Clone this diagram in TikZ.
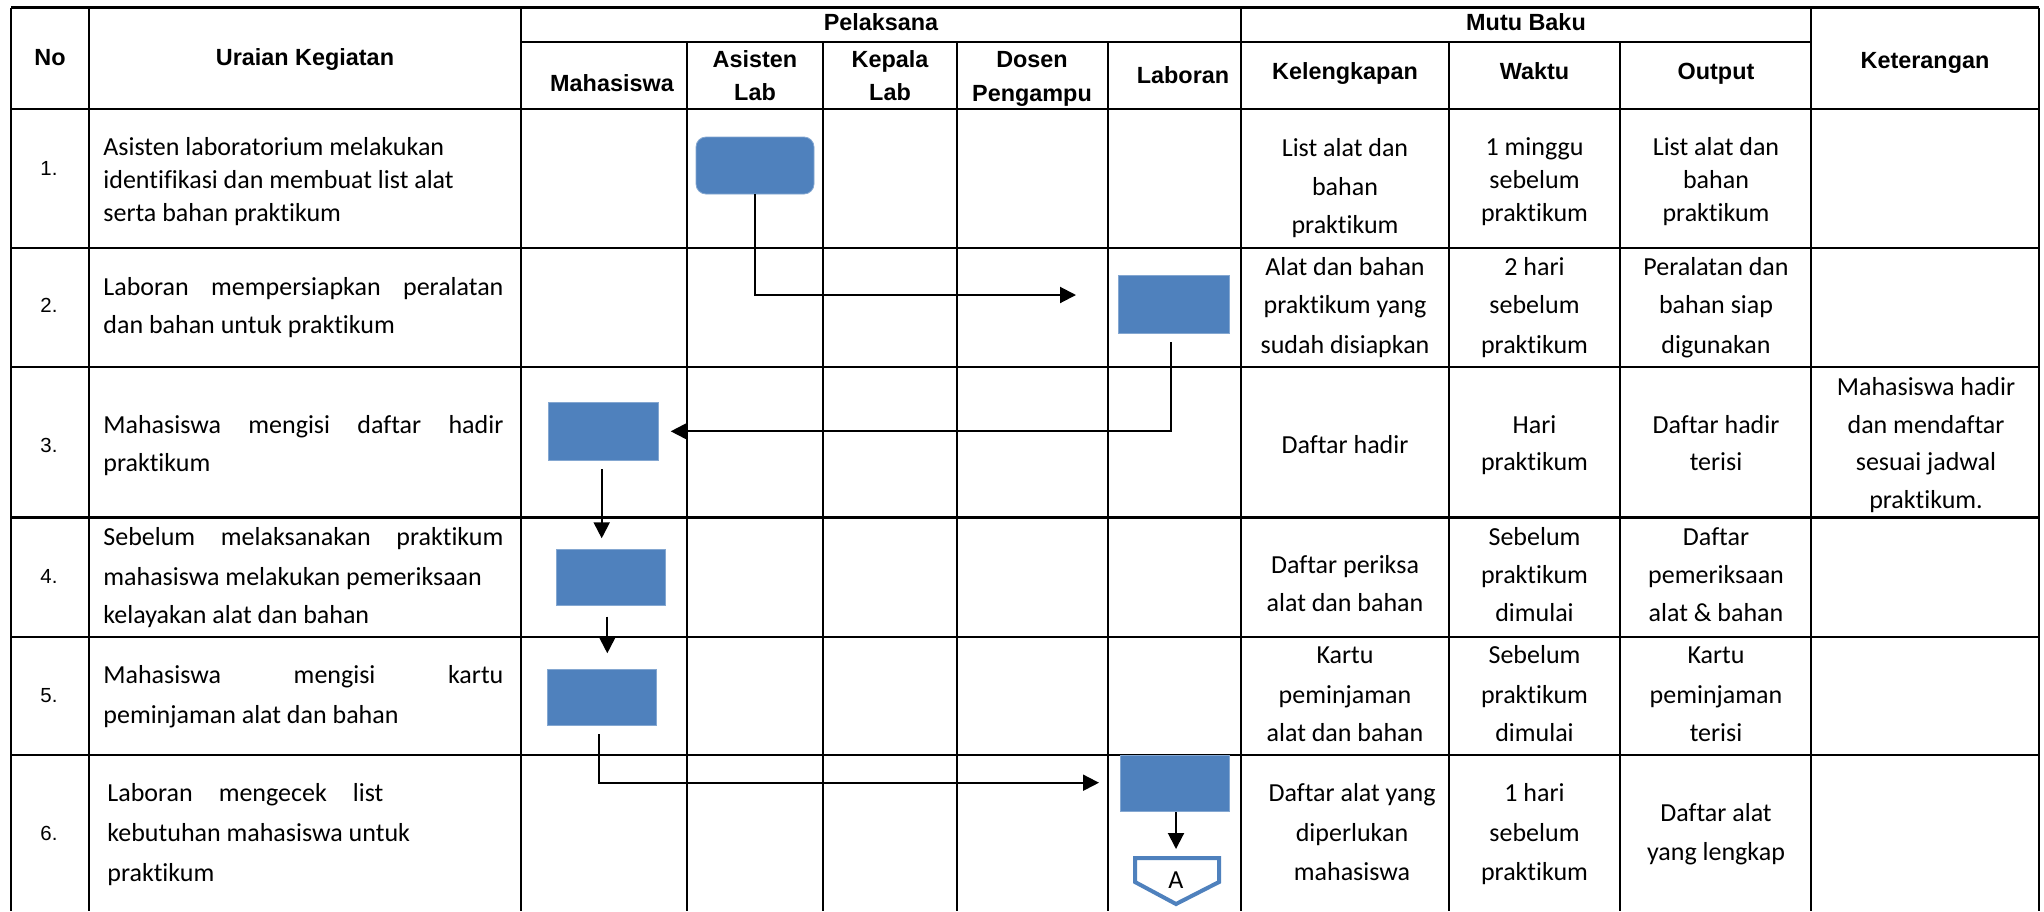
\documentclass[tikz,border=0pt]{standalone}
\usepackage{fontspec}
\usetikzlibrary{arrows.meta}
\newfontfamily\arialf{Liberation Sans}
\newfontfamily\calib{Carlito}[Ligatures=NoCommon]
\definecolor{boxblue}{HTML}{4F81BD}
\tikzset{
 hd/.style={font=\arialf\bfseries\fontsize{11.7pt}{14pt}\selectfont, anchor=base, inner sep=0pt},
 bd/.style={font=\calib\fontsize{13pt}{15pt}\selectfont, anchor=base, inner sep=0pt},
 bdl/.style={bd, anchor=base west},
 num/.style={font=\arialf\fontsize{10.2pt}{12pt}\selectfont, anchor=base, inner sep=0pt},
 hline/.style={line width=1.1pt},
 vline/.style={line width=0.7pt},
 proc/.style={fill=boxblue, draw=boxblue!70!white, line width=0.4pt, inner sep=0pt},
 arr/.style={line width=1pt, -{Triangle[length=8pt,width=8pt]}},
 offpage/.style={draw=boxblue, line width=2pt, fill=white, line join=miter},
}
\begin{document}
\begin{tikzpicture}[x=0.5pt,y=-0.5pt]
\useasboundingbox (0,0) rectangle (2044,911);
\fill[white] (0,0) rectangle (2044,911);

% table lines
\draw[hline] (11,7.5) -- (2039,7.5);
\draw[hline] (521,42) -- (1811,42);
\foreach \y in {109,248,367,517.5,637,755} \draw[hline] (11,\y) -- (2039,\y);
\foreach \x in {11,89,521,1241,1811,2039} \draw[vline] (\x,7.5) -- (\x,911);
\foreach \x in {687,823,957,1108,1449,1620} \draw[vline] (\x,42) -- (\x,911);

% header
\node[hd] (hNo) at (50,65.5) {No};
\node[hd] (hUr) at (305,65.5) {Uraian Kegiatan};
\node[hd] (hPel) at (881,30.5) {Pelaksana};
\node[hd] (hMB) at (1526,30.5) {Mutu Baku};
\node[hd] (hKet) at (1925,68.5) {Keterangan};
\node[hd] (hMhs) at (612,91.5) {Mahasiswa};
\node[hd] (hAs1) at (755,67.5) {Asisten};
\node[hd] (hAs2) at (755,100.5) {Lab};
\node[hd] (hKp1) at (890,67.5) {Kepala};
\node[hd] (hKp2) at (890,100.5) {Lab};
\node[hd] (hDs1) at (1032,67.5) {Dosen};
\node[hd] (hDs2) at (1032,101.5) {Pengampu};
\node[hd] (hLab) at (1183,83.5) {Laboran};
\node[hd] (hKel) at (1345,79.5) {Kelengkapan};
\node[hd] (hWkt) at (1534.5,79.5) {Waktu};
\node[hd] (hOut) at (1716,79.5) {Output};

% numbers
\node[num] (n1) at (49,175) {1.};
\node[num] (n2) at (49,312) {2.};
\node[num] (n3) at (49,452) {3.};
\node[num] (n4) at (49,583.5) {4.};
\node[num] (n5) at (49,702) {5.};
\node[num] (n6) at (49,840) {6.};

% uraian
\node[bdl] (u1a) at (103,155) {Asisten laboratorium melakukan};
\node[bdl] (u1b) at (103,188) {identifikasi dan membuat list alat};
\node[bdl] (u1c) at (103,221) {serta bahan praktikum};
\node[bdl] (u2a) at (103,295) {\makebox[200pt][s]{Laboran mempersiapkan peralatan}};
\node[bdl] (u2b) at (103,333) {dan bahan untuk praktikum};
\node[bdl] (u3a) at (103,433) {\makebox[200pt][s]{Mahasiswa mengisi daftar hadir}};
\node[bdl] (u3b) at (103,471) {praktikum};
\node[bdl] (u4a) at (103,545) {\makebox[200pt][s]{Sebelum melaksanakan praktikum}};
\node[bdl] (u4b) at (103,585) {mahasiswa melakukan pemeriksaan};
\node[bdl] (u4c) at (103,623) {kelayakan alat dan bahan};
\node[bdl] (u5a) at (103,683) {\makebox[200pt][s]{Mahasiswa mengisi kartu}};
\node[bdl] (u5b) at (103,723) {peminjaman alat dan bahan};
\node[bdl] (u6a) at (107,801) {\makebox[138pt][s]{Laboran mengecek list}};
\node[bdl] (u6b) at (107,841) {kebutuhan mahasiswa untuk};
\node[bdl] (u6c) at (107,881) {praktikum};

% kelengkapan
\foreach \y/\s [count=\i] in {156/List alat dan, 195/bahan, 233/praktikum,
  275/Alat dan bahan, 313/praktikum yang, 353/sudah disiapkan,
  453/Daftar hadir, 573/Daftar periksa, 611/alat dan bahan,
  663/Kartu, 703/peminjaman, 741/alat dan bahan}
  \node[bd] (k\i) at (1345,\y) {\s};
\foreach \y/\s [count=\i] in {801/Daftar alat yang, 841/diperlukan, 880/mahasiswa}
  \node[bd] (kk\i) at (1352,\y) {\s};
% waktu
\foreach \y/\s [count=\i] in {155/1 minggu, 188/sebelum, 221/praktikum,
  275/2 hari, 313/sebelum, 353/praktikum,
  433/Hari, 470/praktikum,
  545/Sebelum, 583/praktikum, 621/dimulai,
  663/Sebelum, 703/praktikum, 741/dimulai,
  801/1 hari, 841/sebelum, 880/praktikum}
  \node[bd] (w\i) at (1534.5,\y) {\s};
% output
\foreach \y/\s [count=\i] in {155/List alat dan, 188/bahan, 221/praktikum,
  275/Peralatan dan, 313/bahan siap, 353/digunakan,
  433/Daftar hadir, 470/terisi,
  545/Daftar, 583/pemeriksaan, 621/alat \& bahan,
  663/Kartu, 703/peminjaman, 741/terisi,
  821/Daftar alat, 860/yang lengkap}
  \node[bd] (o\i) at (1716,\y) {\s};
% keterangan
\foreach \y/\s [count=\i] in {395/Mahasiswa hadir, 433/dan mendaftar, 470/sesuai jadwal, 508/praktikum.}
  \node[bd] (ket\i) at (1926,\y) {\s};

% process boxes
\node[proc, rounded corners=5pt, minimum width=59pt, minimum height=28.5pt] (asis) at (755,165.5) {};
\node[proc, minimum width=55.5pt, minimum height=29pt] (lab2) at (1173.5,304) {};
\node[proc, minimum width=54.6pt, minimum height=28.6pt] (mhs3) at (603.3,431.3) {};
\node[proc, minimum width=54.5pt, minimum height=28.4pt] (mhs4) at (611.2,577.3) {};
\node[proc, minimum width=54.7pt, minimum height=28.4pt] (mhs5) at (602,697.3) {};
\node[proc, minimum width=54.5pt, minimum height=28.4pt] (lab6) at (1174.5,783.3) {};

% off-page connector
\draw[offpage] (1135,858) -- (1219,858) -- (1219,882) -- (1176,904) -- (1135,882) -- cycle;
\node[bd] (conA) at (1176,888.5) {A};

% connectors
\coordinate (t1) at (1076,295);
\draw[arr] (asis.south) |- (t1);
\coordinate (s2) at (1171,342);
\coordinate (t2) at (670.7,431.3);
\draw[arr] (s2) |- (t2);
\coordinate (s3) at (601.7,469);
\coordinate (t3) at (601.7,538.3);
\draw[arr] (s3) -- (t3);
\coordinate (s4) at (607.3,616.7);
\coordinate (t4) at (607.3,653.3);
\draw[arr] (s4) -- (t4);
\coordinate (s5) at (598.7,734);
\coordinate (t5) at (1099,782.7);
\draw[arr] (s5) |- (t5);
\coordinate (tA) at (1176,849);
\draw[arr] (lab6.south -| tA) -- (tA);
\end{tikzpicture}
\end{document}
